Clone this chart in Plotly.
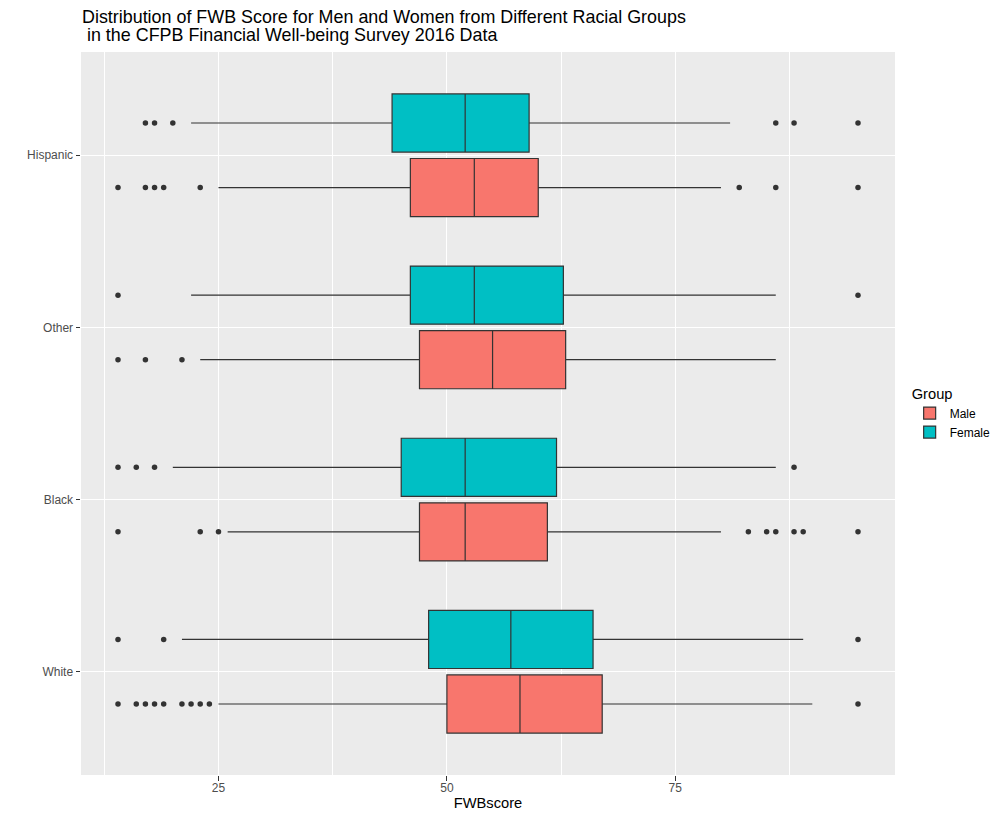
import plotly.graph_objects as go

# ---------------- data ----------------
races = ["White", "Black", "Other", "Hispanic"]

male_q1 = [50, 47, 47, 46]
male_median = [58, 52, 55, 53]
male_q3 = [67, 61, 63, 60]
male_lower = [25, 26, 23, 25]
male_upper = [90, 80, 86, 80]

female_q1 = [48, 45, 46, 44]
female_median = [57, 52, 53, 52]
female_q3 = [66, 62, 62.75, 59]
female_lower = [21, 20, 22, 22]
female_upper = [89, 86, 86, 81]

male_out_race = (["White"] * 10 + ["Black"] * 9 + ["Other"] * 3 + ["Hispanic"] * 8)
male_out_score = [14, 16, 17, 18, 19, 21, 22, 23, 24, 95,
                  14, 23, 25, 83, 85, 86, 88, 89, 95,
                  14, 17, 21,
                  14, 17, 18, 19, 23, 82, 86, 95]

female_out_race = (["White"] * 3 + ["Black"] * 4 + ["Other"] * 2 + ["Hispanic"] * 6)
female_out_score = [14, 19, 95,
                    14, 16, 18, 88,
                    14, 95,
                    17, 18, 20, 86, 88, 95]

x_ticks = [25, 50, 75]

title_line1 = "Distribution of FWB Score for Men and Women from Different Racial Groups"
title_line2 = "\u00a0in the CFPB Financial Well-being Survey 2016 Data"

# ---------------- styles ----------------
MALE_COL = "#F8766D"
FEMALE_COL = "#00BFC4"
LINE_COL = "#333333"
FONT = "Liberation Sans, Arial, sans-serif"

fig = go.Figure()

fig.add_trace(go.Box(
    name="Male", y=races, q1=male_q1, median=male_median, q3=male_q3,
    lowerfence=male_lower, upperfence=male_upper, orientation="h",
    fillcolor=MALE_COL, line=dict(color=LINE_COL, width=1.2),
    whiskerwidth=0, boxpoints=False, hoverinfo="skip", legendgroup="Male",
    offsetgroup="Male",
))
fig.add_trace(go.Box(
    name="Female", y=races, q1=female_q1, median=female_median, q3=female_q3,
    lowerfence=female_lower, upperfence=female_upper, orientation="h",
    fillcolor=FEMALE_COL, line=dict(color=LINE_COL, width=1.2),
    whiskerwidth=0, boxpoints=False, hoverinfo="skip", legendgroup="Female",
    offsetgroup="Female",
))

fig.add_trace(go.Scatter(
    x=male_out_score, y=male_out_race, mode="markers", orientation="h",
    marker=dict(color=LINE_COL, size=5.5), showlegend=False,
    hoverinfo="skip", legendgroup="Male", offsetgroup="Male",
))
fig.add_trace(go.Scatter(
    x=female_out_score, y=female_out_race, mode="markers", orientation="h",
    marker=dict(color=LINE_COL, size=5.5), showlegend=False,
    hoverinfo="skip", legendgroup="Female", offsetgroup="Female",
))

title_font = dict(size=17.9, color="black", family=FONT)

fig.update_layout(
    width=984, height=803,
    margin=dict(l=73, r=97, t=44, b=36, autoexpand=False),
    paper_bgcolor="white",
    plot_bgcolor="#EBEBEB",
    font=dict(family=FONT, color="black"),
    boxmode="group", boxgap=0.25, boxgroupgap=0.1,
    scattermode="group", scattergap=0.25,
    legend=dict(
        title=dict(text="Group", font=dict(size=14.7)),
        x=1.018, xanchor="left", y=0.5, yanchor="middle",
        font=dict(size=12), traceorder="normal", tracegroupgap=10,
        bgcolor="rgba(0,0,0,0)",
    ),
    showlegend=True,
    annotations=[
        dict(text=title_line1, xref="paper", yref="paper", x=0, y=1,
             xanchor="left", yanchor="middle", yshift=35, xshift=-1,
             showarrow=False, align="left", font=title_font),
        dict(text=title_line2, xref="paper", yref="paper", x=0, y=1,
             xanchor="left", yanchor="middle", yshift=17, xshift=-1,
             showarrow=False, align="left", font=title_font),
    ],
)

fig.update_xaxes(
    range=[9.95, 99.05], tickvals=x_ticks, ticks="outside", ticklen=4.5,
    tickcolor=LINE_COL, tickwidth=1.1, automargin=False,
    tickfont=dict(size=12, color="#4D4D4D"), ticklabelstandoff=-3,
    showgrid=True, gridcolor="white", gridwidth=1.1,
    minor=dict(tick0=0, dtick=12.5, showgrid=True, gridcolor="white", gridwidth=0.55, ticks=""),
    zeroline=False, showline=False,
    title=dict(text="FWBscore", font=dict(size=14.7, color="black"), standoff=1),
)
fig.update_yaxes(
    type="category", categoryorder="array", categoryarray=races,
    range=[-0.6, 3.6], automargin=False,
    ticks="outside", ticklen=4.5, tickcolor=LINE_COL, tickwidth=1.1,
    tickfont=dict(size=12, color="#4D4D4D"),
    showgrid=True, gridcolor="white", gridwidth=1.1,
    zeroline=False, showline=False, ticklabelstandoff=0,
)

fig.write_html("out.html")
